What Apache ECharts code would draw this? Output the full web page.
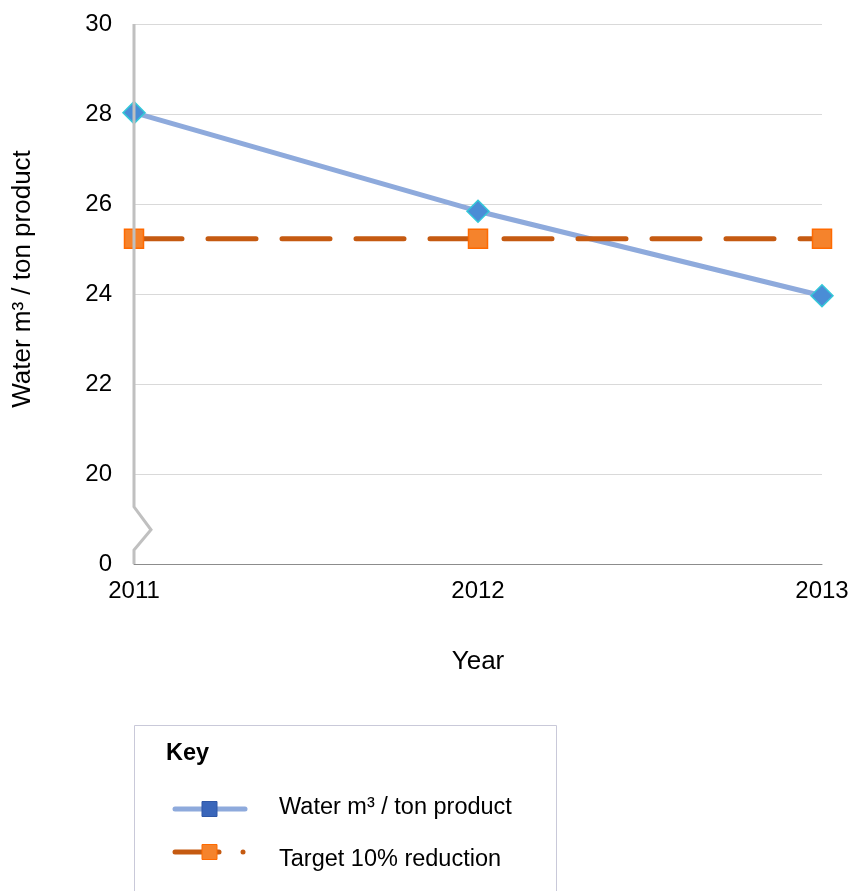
<!DOCTYPE html>
<html><head><meta charset="utf-8">
<script src="https://cdn.jsdelivr.net/npm/echarts@6/dist/echarts.min.js"></script>
<style>html,body{margin:0;padding:0;background:#fff}#c{width:852px;height:891px}</style>
</head><body><div id="c"></div>
<script>
const years = ['2011', '2012', '2013'];
const waterValues = [28.03, 25.84, 23.96];
const targetValues = [25.23, 25.23, 25.23];
// axis break: the lowest tick position (18) is labelled "0"
const yTickValues = [18, 20, 22, 24, 26, 28, 30];
const yTickLabels = ['0', '20', '22', '24', '26', '28', '30'];
const seriesNames = ['Water m\u00b3 / ton product', 'Target 10% reduction'];
const yTitle = 'Water m\u00b3 / ton product';
const xTitle = 'Year';
const keyTitle = 'Key';

(function () {
const FONT = 'Liberation Sans, Arial, sans-serif';
const chart = echarts.init(document.getElementById('c'), null, {renderer: 'canvas'});
chart.setOption({
  animation: false,
  backgroundColor: '#fff',
  grid: {left: 134, right: 30, top: 24, bottom: 327, containLabel: false},
  xAxis: {
    type: 'category', data: years, boundaryGap: false,
    axisLine: {show: true, lineStyle: {color: '#8c8c8c', width: 1}},
    axisTick: {show: false},
    axisLabel: {color: '#000', fontSize: 24, fontFamily: FONT, margin: 15},
    splitLine: {show: false},
    name: xTitle, nameLocation: 'middle', nameGap: 85,
    nameTextStyle: {color: '#000', fontSize: 26, fontFamily: FONT}
  },
  yAxis: {
    type: 'value', min: yTickValues[0], max: yTickValues[yTickValues.length - 1], interval: 2,
    axisLine: {show: false}, axisTick: {show: false},
    axisLabel: {color: '#000', fontSize: 24, fontFamily: FONT, margin: 22,
      formatter: v => { const i = yTickValues.indexOf(v); return i >= 0 ? yTickLabels[i] : ''; }},
    splitLine: {show: true, lineStyle: {color: '#d9d9d9', width: 1}},
    name: yTitle, nameLocation: 'middle', nameGap: 98,
    nameTextStyle: {color: '#000', fontSize: 26, fontFamily: FONT, padding: [0, 0, 0, 30]}
  },
  series: [
    {
      name: seriesNames[0], type: 'line', data: waterValues,
      symbol: 'diamond', symbolSize: 22,
      lineStyle: {color: '#8eaadc', width: 5},
      itemStyle: {color: '#4a8dd6', borderColor: '#34c8d8', borderWidth: 1.5},
      z: 3
    },
    {
      name: seriesNames[1], type: 'line', data: targetValues,
      symbol: 'rect', symbolSize: 19,
      lineStyle: {color: '#c55a11', width: 5, type: [48, 26], cap: 'round'},
      itemStyle: {color: '#f5832c', borderColor: '#ff6a00', borderWidth: 1.5},
      z: 4
    }
  ]
});

function px(xIdx, v) { return chart.convertToPixel({xAxisIndex: 0, yAxisIndex: 0}, [xIdx, v]); }
const pTop = px(0, yTickValues[yTickValues.length - 1]);
const pBot = px(0, yTickValues[0]);
const b1 = px(0, 19.27), b2 = px(0, 18.76), b3 = px(0, 18.31);
const ax = pTop[0];
const gfx = [
  {type: 'polyline', z: 10, shape: {points: [[ax, pTop[1]], [ax, b1[1]], [ax + 17, b2[1]], [ax, b3[1]], [ax, pBot[1]]]},
   style: {stroke: '#c0c0c0', lineWidth: 3, fill: null, lineJoin: 'miter'}},
  {type: 'rect', shape: {x: 134.5, y: 725.5, width: 422, height: 200},
   style: {fill: '#fff', stroke: '#c9c9d9', lineWidth: 1}},
  {type: 'text', style: {x: 166, y: 754, text: keyTitle, font: 'bold 23.5px ' + FONT, fill: '#000', verticalAlign: 'middle'}},
  {type: 'line', shape: {x1: 175, y1: 809, x2: 245, y2: 809}, style: {stroke: '#8eaadc', lineWidth: 5, lineCap: 'round'}},
  {type: 'rect', shape: {x: 202, y: 801.5, width: 15, height: 15}, style: {fill: '#3a66ba', stroke: '#2f57a6', lineWidth: 1}},
  {type: 'text', style: {x: 279, y: 808, text: seriesNames[0], font: '23.5px ' + FONT, fill: '#000', verticalAlign: 'middle'}},
  {type: 'line', shape: {x1: 175, y1: 852, x2: 219, y2: 852}, style: {stroke: '#c55a11', lineWidth: 5, lineCap: 'round'}},
  {type: 'circle', shape: {cx: 243, cy: 852, r: 2.5}, style: {fill: '#c55a11'}},
  {type: 'rect', shape: {x: 202, y: 844.5, width: 15, height: 15}, style: {fill: '#f5832c', stroke: '#ff6a00', lineWidth: 1}},
  {type: 'text', style: {x: 279, y: 860, text: seriesNames[1], font: '23.5px ' + FONT, fill: '#000', verticalAlign: 'middle'}}
];
chart.setOption({graphic: gfx});
})();
</script></body></html>
